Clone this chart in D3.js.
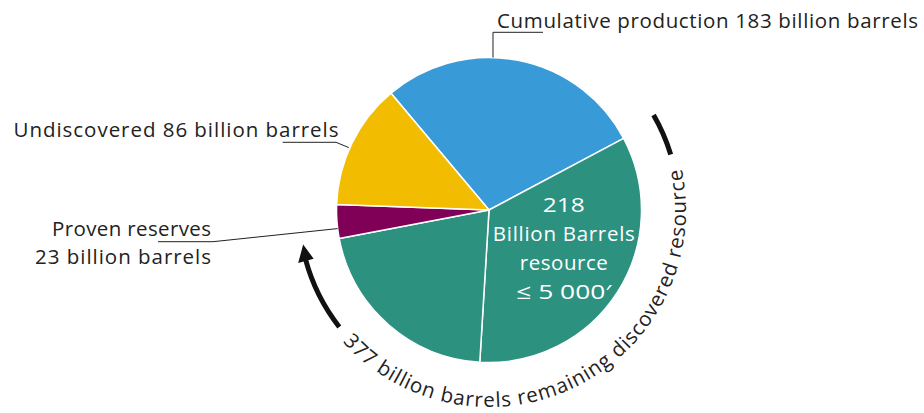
<!DOCTYPE html>
<html>
<head>
<meta charset="utf-8">
<script src="https://cdn.jsdelivr.net/npm/d3@7"></script>
<style>
  html, body { margin: 0; padding: 0; background: #fff; }
  svg { display: block; }
  text { font-family: "Open Sans", Lato, "DejaVu Sans", sans-serif; }
</style>
</head>
<body>
<svg id="chart" width="924" height="413"></svg>
<script>
// Oil resource breakdown, billion barrels
const segments = [
  "Cumulative production",
  "Remaining resource ≤ 5 000′",
  "Remaining resource > 5 000′",
  "Proven reserves",
  "Undiscovered"
];
const values = [183, 218, 136, 23, 86];
const colors = ["#389bd8", "#2d9180", "#2d9180", "#800058", "#f2bc00"];

const remainingDiscovered = 377;
const labelCumulative = "Cumulative production 183 billion barrels";
const labelUndiscovered = "Undiscovered 86 billion barrels";
const labelProven = ["Proven reserves", "23 billion barrels"];
const labelInside = ["218", "Billion Barrels", "resource", "≤ 5 000′"];
const labelArc = remainingDiscovered + " billion barrels remaining discovered resource";

const W = 924, H = 413;
const cx = 489, cy = 210, R = 152.5;
const deg = Math.PI / 180;
const startDeg = -40;
const fs = 20.5;

const svg = d3.select("#chart");
const g = svg.append("g").attr("transform", `translate(${cx},${cy})`);

// point at clockwise-from-north angle (degrees) and radius, relative to pie centre
const pt = (a, r) => [r * Math.sin(a * deg), -r * Math.cos(a * deg)];

const pie = d3.pie().sort(null).value(d => d)
  .startAngle(startDeg * deg).endAngle(startDeg * deg + 2 * Math.PI);
const arc = d3.arc().innerRadius(0).outerRadius(R);

g.selectAll("path.slice")
  .data(pie(values))
  .join("path")
  .attr("class", "slice")
  .attr("d", arc)
  .attr("fill", (d, i) => colors[i])
  .attr("stroke", "#fff")
  .attr("stroke-width", 1.5)
  .attr("stroke-linejoin", "round");

// label inside the deep remaining-resource slice
const inPos = pt(117, 84);
const inWidths = [42, 142, 88, 95];
const inAdjust = ["spacingAndGlyphs", "spacing", "spacing", "spacingAndGlyphs"];
labelInside.forEach((t, i) => {
  g.append("text")
    .attr("x", inPos[0])
    .attr("y", inPos[1] + 7 + (i - 1.5) * 29)
    .attr("text-anchor", "middle")
    .attr("fill", "#fff")
    .attr("font-size", fs)
    .attr("textLength", inWidths[i])
    .attr("lengthAdjust", inAdjust[i])
    .text(t);
});

// leader lines and outside labels
const lineStyle = sel => sel.attr("fill", "none").attr("stroke", "#222").attr("stroke-width", 1);
const label = (x, y, anchor, width, t) =>
  g.append("text").attr("x", x - cx).attr("y", y - cy)
    .attr("text-anchor", anchor)
    .attr("font-size", fs).attr("fill", "#222")
    .attr("textLength", width).attr("lengthAdjust", "spacing")
    .text(t);

const aCum = pt(1.5, R);
lineStyle(g.append("path").attr("d", d3.line()([aCum, [aCum[0], 32.3 - cy], [543 - cx, 32.3 - cy]])));
label(497, 27.7, "start", 421, labelCumulative);

const aUnd = pt(-66, R + 1);
lineStyle(g.append("path").attr("d", d3.line()([[282.7 - cx, 142.3 - cy], [336 - cx, 142.3 - cy], aUnd])));
label(338.5, 136.7, "end", 325, labelUndiscovered);

const aPro = pt(-97, R);
lineStyle(g.append("path").attr("d", d3.line()([[158 - cx, 241.7 - cy], [213 - cx, 241.7 - cy], aPro])));
label(211, 236, "end", 159, labelProven[0]);
label(211, 264.3, "end", 176, labelProven[1]);

// bracket arcs around the remaining discovered resource
const rA = 190;
const std = a => (a - 90) * deg;
const p1 = d3.path();
p1.arc(0, 0, rA, std(60), std(73), false);
g.append("path").attr("d", p1.toString())
  .attr("fill", "none").attr("stroke", "#111").attr("stroke-width", 5);

const p2 = d3.path();
p2.arc(0, 0, rA, std(232), std(255), false);
g.append("path").attr("d", p2.toString())
  .attr("fill", "none").attr("stroke", "#111").attr("stroke-width", 5);
// arrow head
const tip = pt(259.5, rA - 1);
const b1 = pt(254.5, rA - 8);
const b2 = pt(254.5, rA + 8);
g.append("path").attr("d", d3.line()([tip, b1, b2]) + "Z").attr("fill", "#111");

// curved caption along the bottom of the pie
const rT = 197;
const a0 = 228, a1 = 78;
const tp = d3.path();
const s0 = pt(a0, rT);
tp.moveTo(s0[0], s0[1]);
tp.arc(0, 0, rT, std(a0), std(a1), true);
svg.append("defs").append("path").attr("id", "capPath")
  .attr("d", tp.toString()).attr("transform", `translate(${cx},${cy})`);
svg.append("text")
  .attr("font-size", fs).attr("fill", "#222")
  .append("textPath")
  .attr("href", "#capPath")
  .attr("startOffset", 0)
  .attr("textLength", (a0 - a1) * deg * rT)
  .attr("lengthAdjust", "spacing")
  .text(labelArc);
</script>
</body>
</html>
